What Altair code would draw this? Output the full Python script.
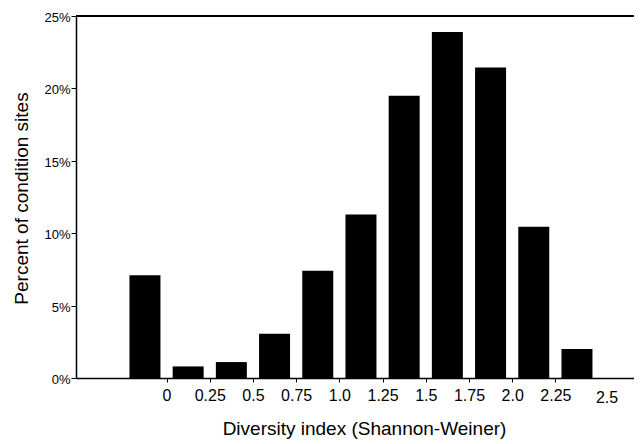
import altair as alt
import pandas as pd

# ---- data ----
bin_centers = [-0.125, 0.125, 0.375, 0.625, 0.875, 1.125, 1.375, 1.625, 1.875, 2.125, 2.375]
percent_sites = [7.1, 0.8, 1.1, 3.05, 7.4, 11.3, 19.5, 23.9, 21.45, 10.45, 2.0]

x_tick_values = [0, 0.25, 0.5, 0.75, 1.0, 1.25, 1.5, 1.75, 2.0, 2.25, 2.5]
x_tick_labels = ["0", "0.25", "0.5", "0.75", "1.0", "1.25", "1.5", "1.75", "2.0", "2.25", "2.5"]
y_tick_values = [0, 5, 10, 15, 20, 25]
y_tick_labels = ["0%", "5%", "10%", "15%", "20%", "25%"]

FONT = "Liberation Sans"

df = pd.DataFrame({"center": bin_centers, "pct": percent_sites})


def label_expr(values, labels):
    expr = "''"
    for v, l in reversed(list(zip(values, labels))):
        expr = f"(abs(datum.value - {v}) < 1e-6 ? '{l}' : {expr})"
    return expr


x_axis = alt.Axis(
    values=x_tick_values,
    labelExpr=label_expr(x_tick_values, x_tick_labels),
    grid=False,
    domainColor="black",
    domainWidth=1.5,
    tickColor="black",
    tickWidth=1,
    tickSize=4,
    tickOpacity={"condition": {"test": "datum.value >= 2.5", "value": 0}, "value": 1},
    labelFont=FONT,
    labelFontSize=16,
    labelColor="black",
    labelPadding={"condition": {"test": "datum.value >= 2.5", "value": 7}, "value": 5},
    labelOffset={"condition": {"test": "datum.value >= 2.5", "value": 8}, "value": 0},
    labelFlush=False,
    labelOverlap=False,
    title="Diversity index (Shannon-Weiner)",
    titleFont=FONT,
    titleFontSize=19,
    titleFontWeight="normal",
    titleColor="black",
    titleX=288,
    titleY=56,
    titleAlign="center",
    titleBaseline="alphabetic",
)

y_axis = alt.Axis(
    values=y_tick_values,
    labelExpr=label_expr(y_tick_values, y_tick_labels),
    grid=False,
    domainColor="black",
    domainWidth=1.5,
    tickColor="black",
    tickWidth=1,
    tickSize=5,
    labelFont=FONT,
    labelFontSize=13,
    labelColor="black",
    labelPadding=1,
    labelOffset=1.5,
    labelBaseline="middle",
    labelOverlap=False,
    title="Percent of condition sites",
    titleFont=FONT,
    titleFontSize=19,
    titleFontWeight="normal",
    titleColor="black",
    titleX=-49,
    titleY=182,
    titleAngle=270,
    titleAlign="center",
    titleBaseline="alphabetic",
)

bars = alt.Chart(df).mark_bar(size=31, color="black").encode(
    x=alt.X("center:Q",
            scale=alt.Scale(domain=[-0.524, 2.705], nice=False, zero=False, padding=0),
            axis=x_axis),
    y=alt.Y("pct:Q", scale=alt.Scale(domain=[0, 25], nice=False), axis=y_axis),
)

top_line = alt.Chart(df).mark_rule(color="black", strokeWidth=1.5).encode(
    y=alt.datum(25)
)

chart = (
    alt.layer(bars, top_line)
    .properties(
        width=558,
        height=362,
        padding={"left": 68, "top": 8, "right": 0, "bottom": 66},
        autosize=alt.AutoSizeParams(type="none"),
        background="white",
    )
    .configure_view(stroke=None)
)

chart.save("out.html", embed_options={"renderer": "svg", "actions": False})
